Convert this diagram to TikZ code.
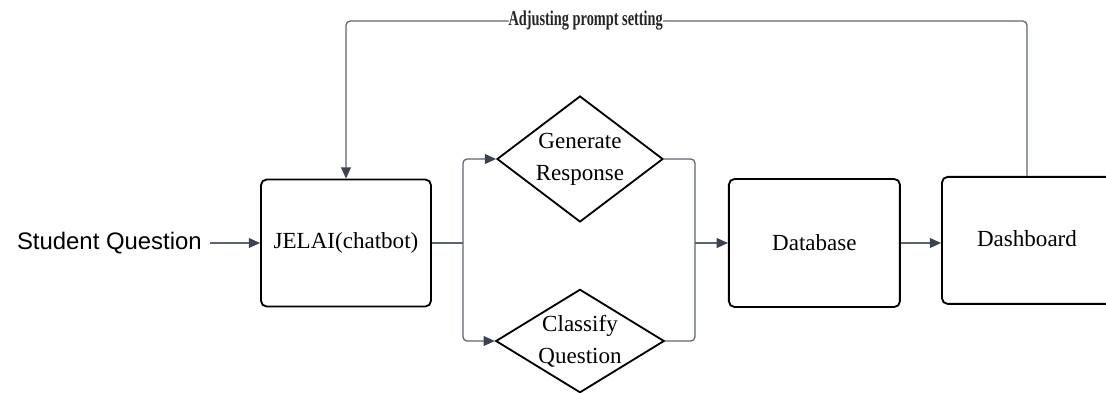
\documentclass[tikz,border=0pt]{standalone}
\usepackage{fontspec}
\setmainfont{Liberation Serif}
\newfontfamily\qsans{Liberation Sans}
\newfontfamily\condserif[FakeStretch=0.68]{Liberation Serif}
\usetikzlibrary{arrows.meta,positioning,shapes.geometric}

\definecolor{linegray}{HTML}{5E646E}
\definecolor{tipgray}{HTML}{3B4250}

\begin{document}
\begin{tikzpicture}[
    >={Triangle[length=8pt,width=7pt,color=tipgray]},
    box/.style={draw,line width=1.3pt,rounded corners=4pt,minimum width=4.25cm,minimum height=3.175cm,
      font=\fontsize{16.4}{23}\selectfont,align=center},
    decision/.style={draw,line width=1.3pt,diamond,inner sep=0pt,minimum width=4.15cm,
      font=\fontsize{16.4}{23}\selectfont,align=center},
    flow/.style={draw=linegray,line width=0.9pt,rounded corners=3pt}]
  \useasboundingbox (0,0) rectangle (27.65,-9.8);
  \clip (0,0) rectangle (27.65,-9.8);

  % nodes
  \node[font=\qsans\fontsize{17}{20}\selectfont,anchor=east,inner sep=0.2cm] (student) at (5.25,-6.075) {Student Question};
  \node[box] (jelai) at (8.65,-6.075) {JELAI(chatbot)};
  \node[decision,minimum height=3.15cm,aspect=1.32] (gen) at (14.5,-3.975) {Generate\\Response};
  \node[decision,minimum height=2.55cm,aspect=1.63] (cls) at (14.5,-8.525) {Classify\\Question};
  \node[box,minimum width=4.275cm,minimum height=3.2cm] (db) at (20.36,-6.075) {Database};
  \node[box] (dash) at (25.675,-6.01) {\raisebox{3pt}{Dashboard}};

  \coordinate (fork) at (11.575,-6.075);
  \coordinate (mg) at (17.375,-6.075);
  \coordinate (top) at (0,-0.525);

  % connectors
  \draw[flow,->] (student) -- (jelai);
  \draw[flow] (jelai.east) -- (fork);
  \draw[flow,->] (fork) |- (gen.west);
  \draw[flow,->] (fork) |- (cls.west);
  \draw[flow] (gen.east) -| (mg);
  \draw[flow] (cls.east) -| (mg);
  \draw[flow,->] (mg) -- (db.west);
  \draw[flow,->] (db.east) -- (db.east -| dash.west);
  \draw[flow,->] (dash.north) -- (dash.north |- top)
    -- node[pos=0.648,fill=white,inner sep=0pt,font=\condserif\bfseries\fontsize{15}{17}\selectfont,text=black!85] (adjlabel) {Adjusting prompt setting}
    (jelai.north |- top) -- (jelai.north);
\end{tikzpicture}
\end{document}
